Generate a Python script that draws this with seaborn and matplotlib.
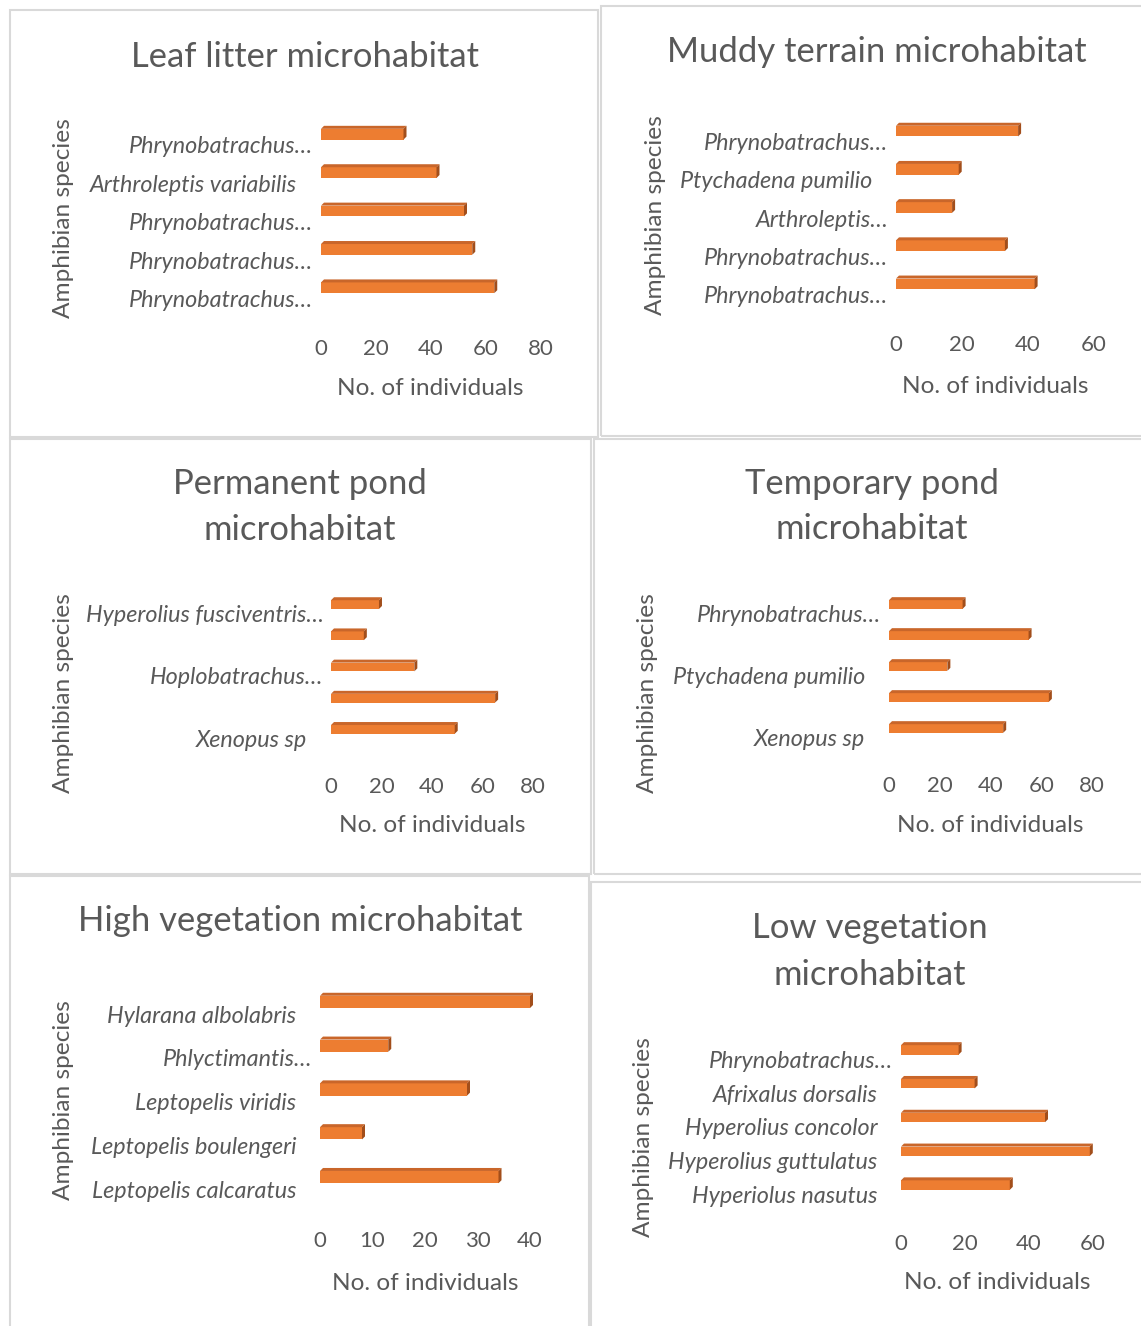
import numpy as np
import matplotlib
matplotlib.use("Agg")
import matplotlib.pyplot as plt
import seaborn as sns
from matplotlib.patches import Rectangle, Polygon
from matplotlib.transforms import IdentityTransform, ScaledTranslation

# Species shown on each chart (top to bottom) and number of individuals
leaf_species = ["Phrynobatrachus…", "Arthroleptis variabilis", "Phrynobatrachus…",
                "Phrynobatrachus…", "Phrynobatrachus…"]
leaf_counts = [30, 42, 52, 55, 63]

muddy_species = ["Phrynobatrachus…", "Ptychadena pumilio", "Arthroleptis…",
                 "Phrynobatrachus…", "Phrynobatrachus…"]
muddy_counts = [37, 19, 17, 33, 42]

# every second label is skipped on the two pond charts
perm_species = ["Hyperolius fusciventris…", "", "Hoplobatrachus…", "", "Xenopus sp"]
perm_counts = [19, 13, 33, 65, 49]

temp_species = ["Phrynobatrachus…", "", "Ptychadena pumilio", "", "Xenopus sp"]
temp_counts = [29, 55, 23, 63, 45]

high_species = ["Hylarana albolabris", "Phlyctimantis…", "Leptopelis viridis",
                "Leptopelis boulengeri", "Leptopelis calcaratus"]
high_counts = [40, 13, 28, 8, 34]

low_species = ["Phrynobatrachus…", "Afrixalus dorsalis", "Hyperolius concolor",
               "Hyperolius guttulatus", "Hyperiolus nasutus"]
low_counts = [18, 23, 45, 59, 34]

x_label = "No. of individuals"
y_label = "Amphibian species"

# layout in pixels: frame box, plot area, title lines + baselines, label anchors
panels = [
    dict(species=leaf_species, counts=leaf_counts, xmax=80, step=20,
         box=(10, 10, 598, 437), area=(321, 115, 541, 307),
         title=["Leaf litter microhabitat"], title_x=305, title_y=[67],
         xlab=(430, 395), ylab=(63, 218)),
    dict(species=muddy_species, counts=muddy_counts, xmax=60, step=20,
         box=(601, 6, 1145, 436), area=(896, 112, 1094, 303),
         title=["Muddy terrain microhabitat"], title_x=877, title_y=[62],
         xlab=(995, 393), ylab=(655, 215)),
    dict(species=perm_species, counts=perm_counts, xmax=80, step=20,
         box=(10, 439, 591, 874), area=(331, 589, 533, 745),
         title=["Permanent pond", "microhabitat"], title_x=300, title_y=[494, 540],
         xlab=(432, 832), ylab=(63, 693)),
    dict(species=temp_species, counts=temp_counts, xmax=80, step=20,
         box=(594, 439, 1145, 874), area=(889, 589, 1092, 744),
         title=["Temporary pond", "microhabitat"], title_x=872, title_y=[494, 539],
         xlab=(990, 832), ylab=(648, 693)),
    dict(species=high_species, counts=high_counts, xmax=40, step=10,
         box=(10, 876, 589, 1330), area=(320, 980, 530, 1199),
         title=["High vegetation microhabitat"], title_x=300, title_y=[931],
         xlab=(425, 1290), ylab=(63, 1100)),
    dict(species=low_species, counts=low_counts, xmax=60, step=20,
         box=(591, 882, 1145, 1330), area=(901, 1033, 1093, 1202),
         title=["Low vegetation", "microhabitat"], title_x=870, title_y=[938, 985],
         xlab=(997, 1289), ylab=(643, 1137)),
]

W, H = 1141, 1326
GREY = "#595959"
ORANGE = "#ED7D31"

sns.set_theme(style="white")
plt.rcParams["font.family"] = ["Lato", "DejaVu Sans"]

fig = plt.figure(figsize=(W / 100, H / 100), dpi=100)


def fx(px):
    return px / W


def fy(py):
    return 1 - py / H


axes = []
for p in panels:
    l, t, r, b = p["box"]
    fig.add_artist(Rectangle((fx(l), fy(b)), (r - l) / W, (b - t) / H,
                             transform=fig.transFigure, fill=False,
                             edgecolor="#D9D9D9", lw=1.5))

    al, at, ar, ab = p["area"]
    ax = fig.add_axes([fx(al), fy(ab), (ar - al) / W, (ab - at) / H])
    n = len(p["counts"])
    sns.barplot(x=p["counts"], y=np.arange(n), orient="h", color=ORANGE,
                saturation=1, width=0.28, errorbar=None, linewidth=0, ax=ax)
    ax.set_xlim(0, p["xmax"])
    ax.set_ylim(n - 0.5, -0.5)
    ax.set_xticks(np.arange(0, p["xmax"] + 1, p["step"]))
    # Excel draws the category text a little below the 3-D bar
    ax.set_yticks(np.arange(n) + 0.28, p["species"], fontstyle="italic")
    ax.set_xlabel("")
    ax.set_ylabel("")
    sns.despine(ax=ax, left=True, bottom=True)
    ax.tick_params(axis="both", length=0, colors=GREY)
    ax.tick_params(axis="x", pad=23, labelsize=16)
    ax.tick_params(axis="y", pad=17, labelsize=16.8)
    ax.set_facecolor("none")

    for line, yb in zip(p["title"], p["title_y"]):
        fig.text(fx(p["title_x"]), fy(yb), line, ha="center", va="baseline",
                 fontsize=24.9, color=GREY)
    fig.text(fx(p["xlab"][0]), fy(p["xlab"][1]), x_label, ha="center",
             va="baseline", fontsize=17.6, color=GREY)
    fig.text(fx(p["ylab"][0]), fy(p["ylab"][1]), y_label, ha="center",
             va="center", rotation=90, fontsize=17.6, color=GREY)
    axes.append(ax)

# truncated names sit closer to the axis, as in the original
for ax in axes:
    for lab in ax.get_yticklabels():
        if lab.get_text().endswith("…"):
            lab.set_transform(lab.get_transform()
                              + ScaledTranslation(0.16, 0, fig.dpi_scale_trans))

# 3-D look: darker top and side faces on each bar
d = 3
for ax in axes:
    for bar in list(ax.patches):
        x0, y0 = bar.get_x(), bar.get_y()
        (px0, py0), (px1, py1) = ax.transData.transform(
            [(x0, y0), (x0 + bar.get_width(), y0 + bar.get_height())])
        L, R = min(px0, px1), max(px0, px1)
        B, T = min(py0, py1), max(py0, py1)
        fig.add_artist(Polygon([(L, T), (R, T), (R + d, T + d), (L + d, T + d)],
                               closed=True, transform=IdentityTransform(),
                               facecolor="#C9662A", edgecolor="none"))
        fig.add_artist(Polygon([(R, B), (R, T), (R + d, T + d), (R + d, B + d)],
                               closed=True, transform=IdentityTransform(),
                               facecolor="#A24E1B", edgecolor="none"))

fig.savefig("out.png", dpi=100, facecolor="white")
